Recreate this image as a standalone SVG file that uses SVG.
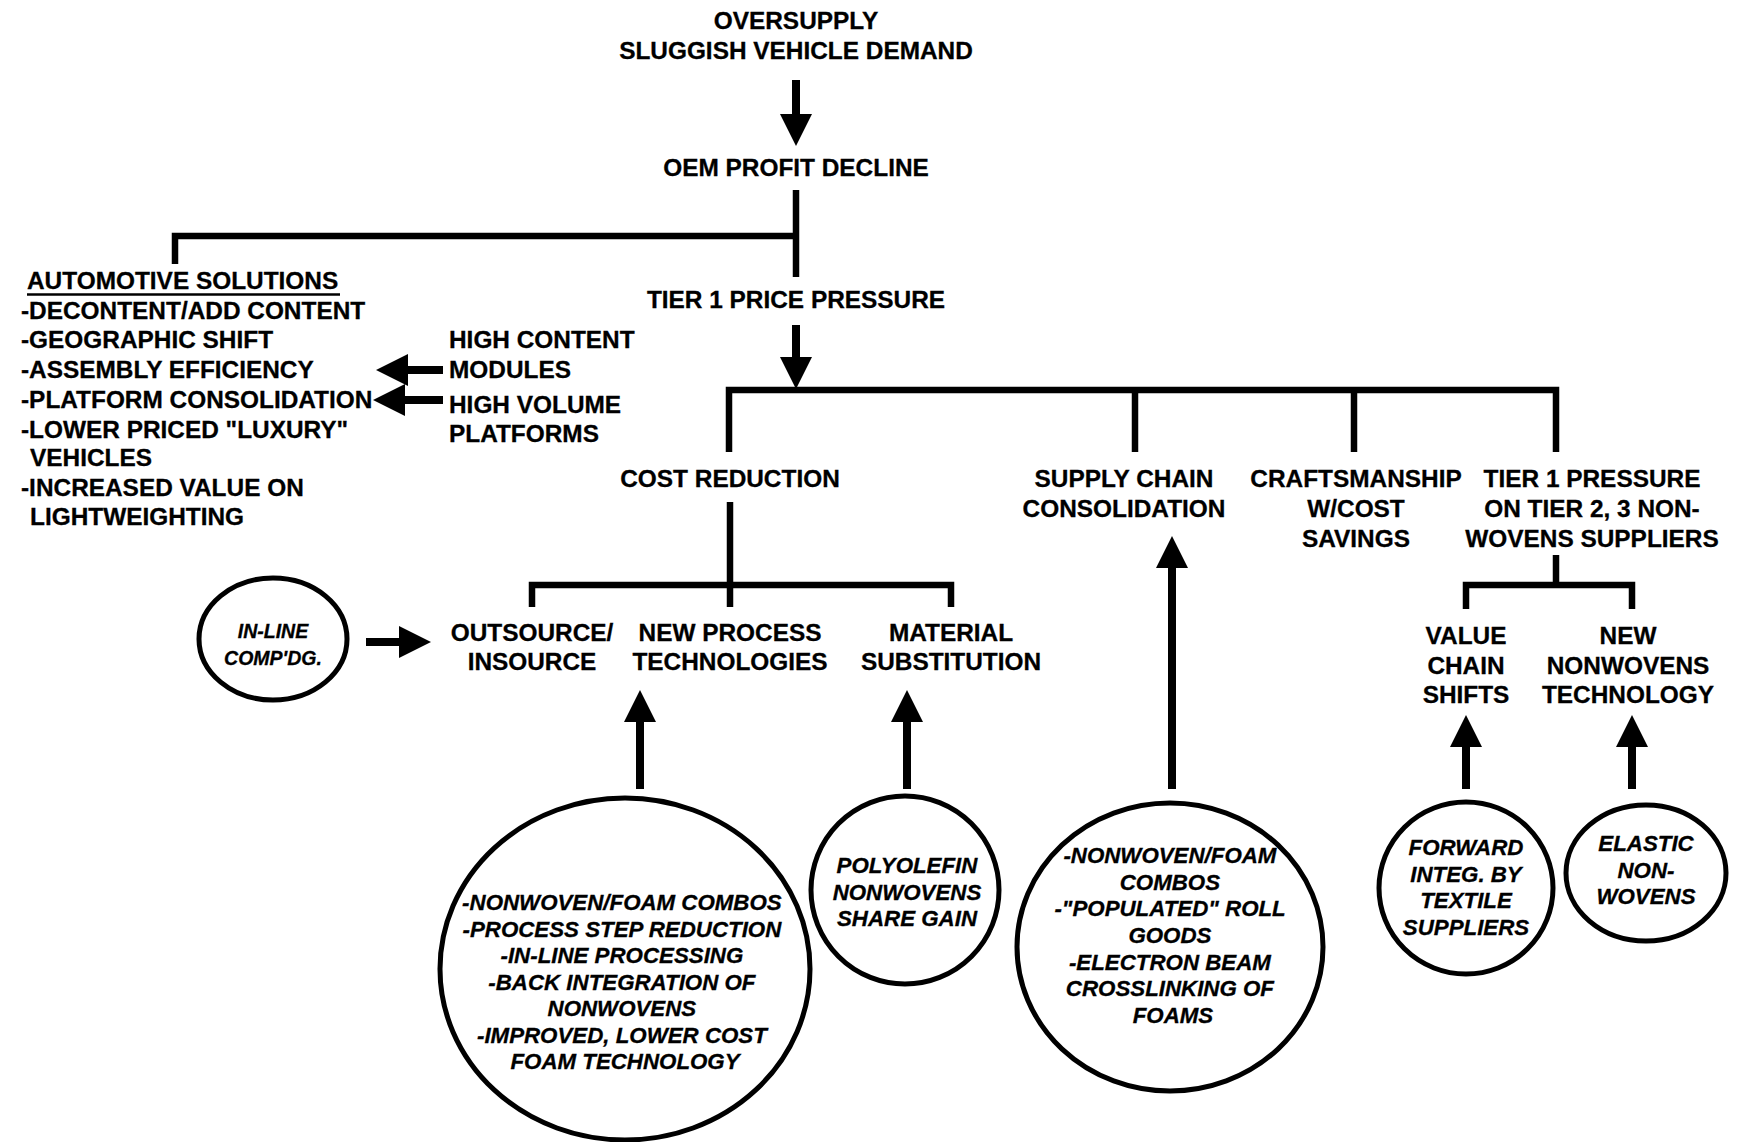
<svg xmlns="http://www.w3.org/2000/svg" width="1737" height="1142" viewBox="0 0 1737 1142">
<style>
  .t { font-family: "Liberation Sans", Arial, sans-serif; font-weight: bold; font-size: 24.4px; fill: #000; stroke: #000; stroke-width: 0.3; }
  .c { text-anchor: middle; }
  .i { font-style: italic; font-size: 22.3px; }
  .s { font-size: 19.5px; }
  .ln { fill: none; stroke: #000; stroke-width: 6.5; stroke-linejoin: miter; }
  .ar { fill: none; stroke: #000; stroke-width: 8; marker-end: url(#head); }
  .el { fill: #fff; stroke: #000; stroke-width: 5; }
</style>
<defs>
  <marker id="head" markerUnits="userSpaceOnUse" markerWidth="32" markerHeight="32" viewBox="0 0 32 32" refX="1" refY="16" orient="auto">
    <path d="M0,0 L32,16 L0,32 Z" fill="#000"/>
  </marker>
</defs>
<rect width="1737" height="1142" fill="#fff"/>

<g id="connectors">
  <line class="ar" x1="796" y1="80" x2="796" y2="115"/>
  <polyline class="ln" points="796,190 796,277"/>
  <polyline class="ln" points="175,264 175,236 796,236"/>
  <line class="ar" x1="796" y1="325" x2="796" y2="358"/>
  <polyline class="ln" points="729,452 729,390 1556,390 1556,452"/>
  <line class="ln" x1="1135" y1="390" x2="1135" y2="452"/>
  <line class="ln" x1="1354" y1="390" x2="1354" y2="452"/>
  <line class="ar" x1="443" y1="370" x2="407" y2="370"/>
  <line class="ar" x1="443" y1="400" x2="404" y2="400"/>
  <line class="ln" x1="730" y1="502" x2="730" y2="607"/>
  <polyline class="ln" points="532,607 532,585 951,585 951,607"/>
  <line class="ln" x1="1556" y1="555" x2="1556" y2="585"/>
  <polyline class="ln" points="1466,609 1466,585 1632,585 1632,609"/>
  <line class="ar" x1="366" y1="642" x2="400" y2="642"/>
  <line class="ar" x1="640" y1="789" x2="640" y2="721"/>
  <line class="ar" x1="907" y1="789" x2="907" y2="721"/>
  <line class="ar" x1="1172" y1="789" x2="1172" y2="567"/>
  <line class="ar" x1="1466" y1="789" x2="1466" y2="746"/>
  <line class="ar" x1="1632" y1="789" x2="1632" y2="746"/>
</g>

<g id="oversupply">
  <text class="t c" x="796" y="29">OVERSUPPLY</text>
  <text class="t c" x="796" y="59">SLUGGISH VEHICLE DEMAND</text>
</g>
<g id="oem-profit-decline">
  <text class="t c" x="796" y="176">OEM PROFIT DECLINE</text>
</g>
<g id="automotive-solutions">
  <text class="t" x="27" y="289">AUTOMOTIVE SOLUTIONS</text>
  <line x1="27" y1="294.5" x2="340" y2="294.5" stroke="#000" stroke-width="2.5"/>
  <text class="t">
    <tspan x="21" y="319">-DECONTENT/ADD CONTENT</tspan>
    <tspan x="21" y="348">-GEOGRAPHIC SHIFT</tspan>
    <tspan x="21" y="378">-ASSEMBLY EFFICIENCY</tspan>
    <tspan x="21" y="408">-PLATFORM CONSOLIDATION</tspan>
    <tspan x="21" y="438">-LOWER PRICED "LUXURY"</tspan>
    <tspan x="30" y="466">VEHICLES</tspan>
    <tspan x="21" y="496">-INCREASED VALUE ON</tspan>
    <tspan x="30" y="525">LIGHTWEIGHTING</tspan>
  </text>
</g>
<g id="tier1-price-pressure">
  <text class="t c" x="796" y="308">TIER 1 PRICE PRESSURE</text>
</g>
<g id="high-content-modules">
  <text class="t"><tspan x="449" y="348">HIGH CONTENT</tspan><tspan x="449" y="378">MODULES</tspan></text>
</g>
<g id="high-volume-platforms">
  <text class="t"><tspan x="449" y="413">HIGH VOLUME</tspan><tspan x="449" y="442">PLATFORMS</tspan></text>
</g>
<g id="cost-reduction">
  <text class="t c" x="730" y="487">COST REDUCTION</text>
</g>
<g id="supply-chain-consolidation">
  <text class="t c"><tspan x="1124" y="487">SUPPLY CHAIN</tspan><tspan x="1124" y="517">CONSOLIDATION</tspan></text>
</g>
<g id="craftsmanship">
  <text class="t c"><tspan x="1356" y="487">CRAFTSMANSHIP</tspan><tspan x="1356" y="517">W/COST</tspan><tspan x="1356" y="547">SAVINGS</tspan></text>
</g>
<g id="tier1-pressure">
  <text class="t c"><tspan x="1592" y="487">TIER 1 PRESSURE</tspan><tspan x="1592" y="517">ON TIER 2, 3 NON-</tspan><tspan x="1592" y="547">WOVENS SUPPLIERS</tspan></text>
</g>
<g id="outsource-insource">
  <text class="t c"><tspan x="532" y="641">OUTSOURCE/</tspan><tspan x="532" y="670">INSOURCE</tspan></text>
</g>
<g id="new-process-technologies">
  <text class="t c"><tspan x="730" y="641">NEW PROCESS</tspan><tspan x="730" y="670">TECHNOLOGIES</tspan></text>
</g>
<g id="material-substitution">
  <text class="t c"><tspan x="951" y="641">MATERIAL</tspan><tspan x="951" y="670">SUBSTITUTION</tspan></text>
</g>
<g id="value-chain-shifts">
  <text class="t c"><tspan x="1466" y="644">VALUE</tspan><tspan x="1466" y="674">CHAIN</tspan><tspan x="1466" y="703">SHIFTS</tspan></text>
</g>
<g id="new-nonwovens-technology">
  <text class="t c"><tspan x="1628" y="644">NEW</tspan><tspan x="1628" y="674">NONWOVENS</tspan><tspan x="1628" y="703">TECHNOLOGY</tspan></text>
</g>
<g id="inline-compdg">
  <ellipse class="el" cx="273" cy="639" rx="74" ry="61"/>
  <text class="t c i s"><tspan x="273" y="638">IN-LINE</tspan><tspan x="273" y="665">COMP'DG.</tspan></text>
</g>
<g id="process-ideas">
  <ellipse class="el" cx="625" cy="969" rx="185" ry="171"/>
  <text class="t c i">
    <tspan x="625" y="910">-NONWOVEN/FOAM COMBOS</tspan>
    <tspan x="625" y="936.5">-PROCESS STEP REDUCTION</tspan>
    <tspan x="625" y="963">-IN-LINE PROCESSING</tspan>
    <tspan x="625" y="989.5">-BACK INTEGRATION OF</tspan>
    <tspan x="625" y="1016">NONWOVENS</tspan>
    <tspan x="625" y="1042.5">-IMPROVED, LOWER COST</tspan>
    <tspan x="625" y="1069">FOAM TECHNOLOGY</tspan>
  </text>
</g>
<g id="polyolefin">
  <ellipse class="el" cx="905" cy="890" rx="94" ry="94"/>
  <text class="t c i"><tspan x="907" y="873">POLYOLEFIN</tspan><tspan x="907" y="900">NONWOVENS</tspan><tspan x="907" y="926">SHARE GAIN</tspan></text>
</g>
<g id="supply-ideas">
  <ellipse class="el" cx="1170" cy="947" rx="153" ry="144"/>
  <text class="t c i">
    <tspan x="1173" y="863">-NONWOVEN/FOAM</tspan>
    <tspan x="1173" y="889.7">COMBOS</tspan>
    <tspan x="1173" y="916.3">-"POPULATED" ROLL</tspan>
    <tspan x="1173" y="943">GOODS</tspan>
    <tspan x="1173" y="969.7">-ELECTRON BEAM</tspan>
    <tspan x="1173" y="996.3">CROSSLINKING OF</tspan>
    <tspan x="1173" y="1023">FOAMS</tspan>
  </text>
</g>
<g id="forward-integ">
  <ellipse class="el" cx="1466" cy="888" rx="87" ry="86"/>
  <text class="t c i"><tspan x="1466" y="855">FORWARD</tspan><tspan x="1466" y="881.7">INTEG. BY</tspan><tspan x="1466" y="908.3">TEXTILE</tspan><tspan x="1466" y="935">SUPPLIERS</tspan></text>
</g>
<g id="elastic-nonwovens">
  <ellipse class="el" cx="1646" cy="873" rx="80" ry="68"/>
  <text class="t c i"><tspan x="1646" y="851">ELASTIC</tspan><tspan x="1646" y="877.7">NON-</tspan><tspan x="1646" y="904.3">WOVENS</tspan></text>
</g>
</svg>
